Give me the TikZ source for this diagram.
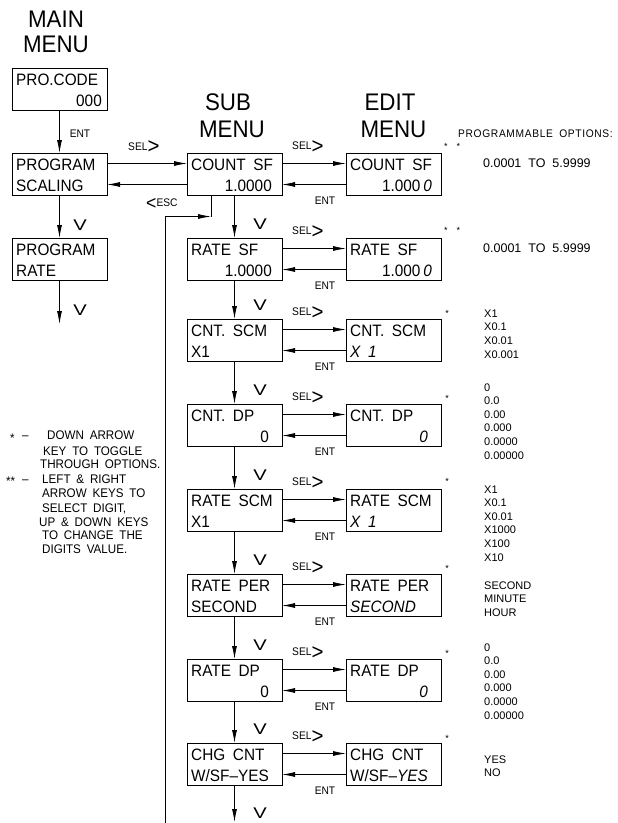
\documentclass[tikz,border=0pt]{standalone}
\usepackage{graphicx}
\usepackage{fontspec}
\setmainfont{Liberation Sans}
\newfontfamily\cad[FakeStretch=0.93,WordSpace=1.8,Ligatures=TeX]{Liberation Sans}
\usetikzlibrary{arrows.meta}
\newcommand\mbL[5]{%
  \node[mbox] (#1) at (#2,#3) {};
  \node[btxt,anchor=base west] (#1a) at ([shift={(4pt,-17pt)}]#1.north west) {#4};
  \node[btxt,anchor=base west] (#1b) at ([shift={(4pt,-38pt)}]#1.north west) {#5};}
\newcommand\mbR[6]{%
  \node[mbox] (#1) at (#2,#3) {};
  \node[btxt,anchor=base west] (#1a) at ([shift={(4pt,-17pt)}]#1.north west) {#4};
  \node[btxt,anchor=base east] (#1b) at ([shift={(-#6pt,-38pt)}]#1.north east) {#5};}
\newcommand\selgt{SEL\raisebox{-3.5pt}{\fontsize{22}{22}\selectfont >}}
\newcommand\vdown{\scalebox{1.4}[1]{V}}
\newcommand\rowlinks[2]{% row index, top
  \draw[arr] ([yshift=-10.5pt]s#1.north east) -- ([yshift=-10.5pt]e#1.north west);
  \draw[arr] ([yshift=-31.5pt]e#1.north west) -- ([yshift=-31.5pt]s#1.north east);
  \node[lbl,anchor=base west] (sel#1) at (292,#2-3.5) {\selgt};
  \node[lbl,anchor=base] (ent#1) at (325,#2+51) {ENT};}
\begin{document}
\begin{tikzpicture}[x=1pt,y=-1pt,
  mbox/.style={draw, line width=0.9pt, anchor=north west, minimum width=95pt,
    minimum height=42.5pt, inner sep=0pt, outer sep=0pt},
  btxt/.style={font=\cad\fontsize{16.5}{18}\selectfont, inner sep=0pt},
  lbl/.style={font=\cad\fontsize{11}{13}\selectfont, inner sep=0pt},
  vlbl/.style={font=\cad\fontsize{15.5}{17}\selectfont, inner sep=0pt, anchor=base},
  hdr/.style={font=\cad\fontsize{24}{26}\selectfont, inner sep=0pt, anchor=base},
  opt/.style={font=\fontsize{11}{13}\selectfont, inner sep=0pt, anchor=base west},
  rng/.style={font=\fontsize{12.5}{14}\selectfont, inner sep=0pt, anchor=base west},
  note/.style={font=\cad\fontsize{12.5}{14}\selectfont, inner sep=0pt, anchor=base west},
  star/.style={font=\fontsize{9}{10}\selectfont, inner sep=0pt},
  arr/.style={line width=0.8pt, -{Latex[length=13pt,width=5pt]}},
  ln/.style={line width=0.8pt}]
\fill[white] (0,0) rectangle (618,823);
\useasboundingbox (0,0) rectangle (618,823);

% headers
\node[hdr] (hmain1) at (56,27) {MAIN};
\node[hdr] (hmain2) at (56,52) {MENU};
\node[hdr] (hsub1) at (228,110) {SUB};
\node[hdr] (hsub2) at (232,137) {MENU};
\node[hdr] (hedit1) at (390,110) {EDIT};
\node[hdr] (hedit2) at (393.5,137) {MENU};

% main menu column
\mbR{pc}{12}{68}{PRO.CODE}{000}{5}
\mbL{ps}{12}{153}{PROGRAM}{SCALING}
\mbL{pr}{12}{238}{PROGRAM}{RATE}
\coordinate (prEnd) at (59.5,324);
\draw[arr] (pc) -- (ps);
\draw[arr] (ps) -- (pr);
\draw[arr] (pr) -- (prEnd);
\node[lbl,anchor=base] (entm) at (80,137) {ENT};
\node[vlbl] (vm1) at (80,230) {\vdown};
\node[vlbl] (vm2) at (80,315) {\vdown};

% sub menu column
\mbR{s1}{187}{153}{COUNT SF}{1.0000}{10}
\mbR{s2}{187}{238}{RATE SF}{1.0000}{10}
\mbL{s3}{187}{319}{CNT. SCM}{X1}
\mbR{s4}{187}{404}{CNT. DP}{0}{13}
\mbL{s5}{187}{489}{RATE SCM}{X1}
\mbL{s6}{187}{574}{RATE PER}{SECOND}
\mbR{s7}{187}{659}{RATE DP}{0}{13}
\mbL{s8}{187}{743}{CHG CNT}{W/SF\textendash YES}

% edit menu column
\mbR{e1}{346}{153}{COUNT SF}{1.000\,\textit{0}}{9}
\mbR{e2}{346}{238}{RATE SF}{1.000\,\textit{0}}{9}
\mbL{e3}{346}{319}{CNT. SCM}{\textit{X 1}}
\mbR{e4}{346}{404}{CNT. DP}{\textit{0}}{13}
\mbL{e5}{346}{489}{RATE SCM}{\textit{X 1}}
\mbL{e6}{346}{574}{RATE PER}{\textit{SECOND}}
\mbR{e7}{346}{659}{RATE DP}{\textit{0}}{13}
\mbL{e8}{346}{743}{CHG CNT}{W/SF\textendash\textit{YES}}

% main <-> sub
\draw[arr] ([yshift=-10.5pt]ps.north east) -- ([yshift=-10.5pt]s1.north west);
\draw[arr] ([yshift=-31.5pt]s1.north west) -- ([yshift=-31.5pt]ps.north east);
\node[lbl,anchor=base west] (selm) at (128,150) {\selgt};
\node[lbl,anchor=base west] (escm) at (146,206) {\raisebox{-3pt}{\fontsize{19}{19}\selectfont <}ESC};

% ESC return line
\coordinate (escB) at (165,823);
\coordinate (escC) at (211,216.5);
\draw[ln] (escC) -- (escC |- s1.south);
\draw[arr] (escB) |- (escC);

% sub column down arrows
\draw[arr] (s1) -- (s2);
\draw[arr] (s2) -- (s3);
\draw[arr] (s3) -- (s4);
\draw[arr] (s4) -- (s5);
\draw[arr] (s5) -- (s6);
\draw[arr] (s6) -- (s7);
\draw[arr] (s7) -- (s8);
\coordinate (sEnd) at (234.5,822);
\draw[arr] (s8) -- (sEnd);
\node[vlbl] (vs2) at (260,229) {\vdown};
\node[vlbl] (vs3) at (260,310) {\vdown};
\node[vlbl] (vs4) at (260,395) {\vdown};
\node[vlbl] (vs5) at (260,480) {\vdown};
\node[vlbl] (vs6) at (260,565) {\vdown};
\node[vlbl] (vs7) at (260,650) {\vdown};
\node[vlbl] (vs8) at (260,734) {\vdown};
\node[vlbl] (vs9) at (260,818) {\vdown};

% sub <-> edit links
\rowlinks{1}{153}
\rowlinks{2}{238}
\rowlinks{3}{319}
\rowlinks{4}{404}
\rowlinks{5}{489}
\rowlinks{6}{574}
\rowlinks{7}{659}
\rowlinks{8}{743}

% programmable options
\node[lbl,anchor=base west,font=\cad\fontsize{11}{13}\selectfont\addfontfeature{LetterSpace=6}] (po) at (458,137) {PROGRAMMABLE OPTIONS:};
\node[star] (st1) at (452,146) {*\hspace{9pt}*};
\node[rng] (r1) at (483,167) {0.0001\ \ TO\ \ 5.9999};
\node[star] (st2) at (452,230) {*\hspace{9pt}*};
\node[rng] (r2) at (483,252) {0.0001\ \ TO\ \ 5.9999};

\node[star] (st3) at (447,313) {*};
\foreach \t [count=\k from 0] in {X1,X0.1,X0.01,X0.001}
  \node[opt] (oa\k) at (484,{317+13.9*\k}) {\t};
\node[star] (st4) at (447,398) {*};
\foreach \t [count=\k from 0] in {0,0.0,0.00,0.000,0.0000,0.00000}
  \node[opt] (ob\k) at (484,{391+13.6*\k}) {\t};
\node[star] (st5) at (447,481) {*};
\foreach \t [count=\k from 0] in {X1,X0.1,X0.01,X1000,X100,X10}
  \node[opt] (oc\k) at (484,{493+13.6*\k}) {\t};
\node[star] (st6) at (447,568) {*};
\foreach \t [count=\k from 0] in {SECOND,MINUTE,HOUR}
  \node[opt] (od\k) at (484,{589+13.6*\k}) {\t};
\node[star] (st7) at (447,653) {*};
\foreach \t [count=\k from 0] in {0,0.0,0.00,0.000,0.0000,0.00000}
  \node[opt] (oe\k) at (484,{651+13.6*\k}) {\t};
\node[star] (st8) at (447,738) {*};
\foreach \t [count=\k from 0] in {YES,NO}
  \node[opt] (of\k) at (484,{763+13.6*\k}) {\t};

% notes
\node[note] (n1s) at (10,442) {*};
\node[note] (n1d) at (22,439) {\textendash};
\node[note] (n1a) at (47,439) {DOWN ARROW};
\node[note] (n1b) at (43,455) {KEY TO TOGGLE};
\node[note] (n1c) at (40,468) {THROUGH OPTIONS.};
\node[note] (n2s) at (6,485) {**};
\node[note] (n2d) at (22,483) {\textendash};
\node[note] (n2a) at (42,483) {LEFT \& RIGHT};
\node[note] (n2b) at (42,497) {ARROW KEYS TO};
\node[note] (n2c) at (42,512) {SELECT DIGIT,};
\node[note] (n2e) at (39,526) {UP \& DOWN KEYS};
\node[note] (n2f) at (42,539) {TO CHANGE THE};
\node[note] (n2g) at (42,553) {DIGITS VALUE.};
\end{tikzpicture}
\end{document}
